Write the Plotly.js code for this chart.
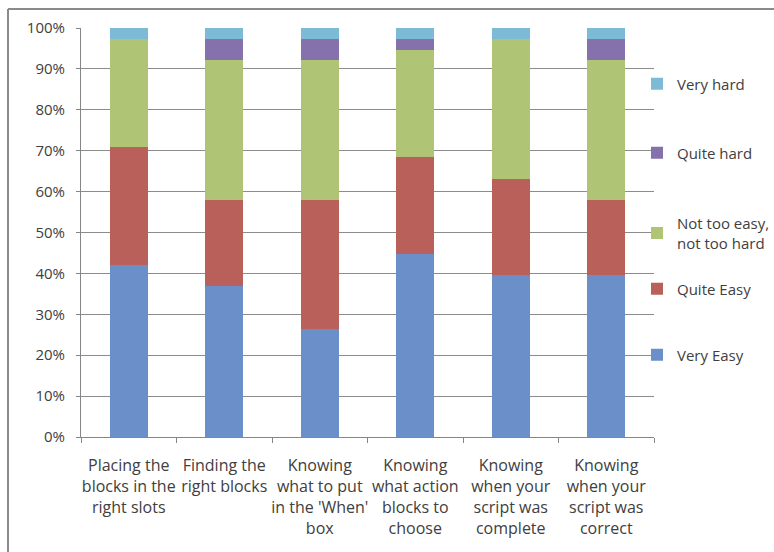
<!DOCTYPE html>
<html>
<head>
<meta charset="utf-8">
<script src="https://cdn.plot.ly/plotly-3.0.1.min.js"></script>
<style>html,body{margin:0;padding:0;background:#fff;}#chart{width:774px;height:552px;}</style>
</head>
<body>
<div id="chart"></div>
<script>
const categories = [
  "Placing the<br>blocks in the<br>right slots",
  "Finding the<br>right blocks",
  "Knowing<br>what to put<br>in the 'When'<br>box",
  "Knowing<br>what action<br>blocks to<br>choose",
  "Knowing<br>when your<br>script was<br>complete",
  "Knowing<br>when your<br>script was<br>correct"
];
const veryEasy   = [42.1, 36.8, 26.3, 44.7, 39.5, 39.5];
const quiteEasy  = [28.9, 21.1, 31.6, 23.7, 23.7, 18.4];
const notTooEasy = [26.3, 34.2, 34.2, 26.3, 34.2, 34.2];
const quiteHard  = [0.0, 5.3, 5.3, 2.6, 0.0, 5.3];
const veryHard   = [2.6, 2.6, 2.6, 2.6, 2.6, 2.6];
const yTickVals  = [0,10,20,30,40,50,60,70,80,90,100];
const yTickText  = ["0%","10%","20%","30%","40%","50%","60%","70%","80%","90%","100%"];

const seriesNames  = ["Very Easy","Quite Easy","Not too easy,<br>not too hard","Quite hard","Very hard"];
const seriesValues = [veryEasy, quiteEasy, notTooEasy, quiteHard, veryHard];
const seriesColors = ["#6b8fc8","#b9605a","#b0c476","#8571ab","#7cbad5"];
const legendIds    = ["legend","legend2","legend3","legend4","legend5"];
const legendCenterY = [355, 289, 233, 153, 84];

const traces = seriesNames.map((n,i)=>({
  type:'bar', name:n, x:categories, y:seriesValues[i],
  legend:legendIds[i],
  marker:{color:seriesColors[i], line:{width:0}},
  hoverinfo:'skip'
}));

const font = {family:"'Open Sans', sans-serif", size:15, color:'#404040'};
const xfont = {family:"'Open Sans', sans-serif", size:16, color:'#404040'};
const L=81, R=654, T=28, B=437;
const W=774, H=552;
const px = x => (x-L)/(R-L);
const py = y => (B-y)/(B-T);

const layout = {
  width:W, height:H,
  margin:{l:L, r:W-R, t:T, b:H-B, pad:0, autoexpand:false},
  barmode:'stack', bargap:0.6,
  paper_bgcolor:'#fff', plot_bgcolor:'#fff',
  font:font,
  showlegend:true,
  xaxis:{
    type:'category', showgrid:false, zeroline:false,
    showline:true, linecolor:'#868686', linewidth:1,
    ticks:'outside', tickson:'boundaries', ticklen:5, tickcolor:'#868686',
    tickfont:xfont, tickangle:0, ticklabelstandoff:14, fixedrange:true
  },
  yaxis:{
    range:[0,100], tickvals:yTickVals, ticktext:yTickText,
    showgrid:true, gridcolor:'#8c8c8c', gridwidth:1, zeroline:false,
    showline:true, linecolor:'#868686', linewidth:1,
    ticks:'outside', ticklen:4, tickcolor:'#868686',
    tickfont:font, ticklabelstandoff:8, fixedrange:true
  },
  shapes:[
    {type:'line', xref:'paper', yref:'paper', x0:px(8), x1:px(790), y0:py(9), y1:py(9), line:{color:'#8a8a8a', width:2}},
    {type:'line', xref:'paper', yref:'paper', x0:px(8), x1:px(8), y0:py(9), y1:py(570), line:{color:'#8a8a8a', width:2}}
  ]
};
legendIds.forEach((id,i)=>{
  layout[id] = {
    x:px(637), xanchor:'left', y:py(legendCenterY[i]), yanchor:'middle',
    itemwidth:30, font:font, bgcolor:'rgba(0,0,0,0)'
  };
});

Plotly.newPlot('chart', traces, layout, {staticPlot:true, displayModeBar:false});
</script>
</body>
</html>
